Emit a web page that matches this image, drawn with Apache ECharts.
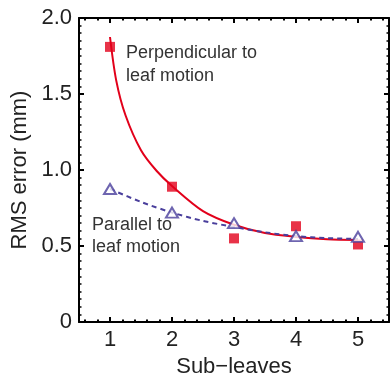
<!DOCTYPE html>
<html>
<head>
<meta charset="utf-8">
<title>RMS error vs sub-leaves</title>
<script src="https://cdn.jsdelivr.net/npm/echarts@6/dist/echarts.min.js"></script>
<style>
    html, body { margin: 0; padding: 0; background: #fff; }
    #chart { width: 391px; height: 375px; }
</style>
</head>
<body>
<div id="chart"></div>
<script>
// measured points
const subLeaves = [1, 2, 3, 4, 5];
const perpValues = [1.81, 0.89, 0.55, 0.63, 0.51];
const paraValues = [0.875, 0.72, 0.65, 0.565, 0.56];

// fitted curves
const perpFitX = [1, 1.1, 1.25, 1.5, 1.75, 2, 2.5, 3, 3.5, 4, 4.5, 5];
const perpFitY = [1.875, 1.59, 1.36, 1.13, 0.995, 0.895, 0.73, 0.64, 0.585, 0.56, 0.545, 0.54];
const paraFitX = [1, 1.5, 2, 2.5, 3, 3.5, 4, 4.5, 5];
const paraFitY = [0.875, 0.79, 0.72, 0.665, 0.625, 0.59, 0.565, 0.552, 0.546];

// ticks
const xMajorTicks = [1, 2, 3, 4, 5];
const xMinorTicks = [0.6, 0.8, 1.2, 1.4, 1.6, 1.8, 2.2, 2.4, 2.6, 2.8, 3.2, 3.4, 3.6, 3.8,
    4.2, 4.4, 4.6, 4.8, 5.2, 5.4];

const RED = '#e2001a';
const BLUE = '#4a3f9c';
const FONT = '"Liberation Sans", Arial, Helvetica, sans-serif';

const zip = (xs, ys) => xs.map((x, i) => [x, ys[i]]);

const axisLine = { show: true, lineStyle: { color: '#000', width: 2 } };

const xBase = (position, ticks, len, showLine) => ({
    type: 'value',
    position: position,
    min: 0.5,
    max: 5.5,
    axisLine: showLine ? axisLine : { show: false },
    axisTick: { show: true, inside: true, length: len, customValues: ticks, lineStyle: { color: '#000', width: 2 } },
    axisLabel: { show: false },
    splitLine: { show: false },
});

const yBase = position => ({
    type: 'value',
    position: position,
    min: 0,
    max: 2,
    interval: 0.5,
    axisLine: axisLine,
    axisTick: { show: true, inside: true, length: 5, lineStyle: { color: '#000', width: 2 } },
    minorTick: { show: true, splitNumber: 10, length: 2.5, lineStyle: { color: '#000', width: 1.5 } },
    axisLabel: { show: false },
    splitLine: { show: false },
});

const bottomMajor = xBase('bottom', xMajorTicks, 5, true);
bottomMajor.axisLabel = {
    show: true,
    customValues: xMajorTicks,
    margin: 7,
    color: '#222',
    fontSize: 22,
    fontFamily: FONT,
};
bottomMajor.name = 'Sub\u2212leaves';
bottomMajor.nameLocation = 'middle';
bottomMajor.nameGap = 30;
bottomMajor.nameTextStyle = { color: '#222', fontSize: 22, fontFamily: FONT };

const leftAxis = yBase('left');
leftAxis.axisLabel = {
    show: true,
    margin: 7,
    color: '#222',
    fontSize: 22,
    fontFamily: FONT,
    formatter: v => (v === 0 ? '0' : v.toFixed(1)),
};
leftAxis.name = 'RMS error (mm)';
leftAxis.nameLocation = 'middle';
leftAxis.nameGap = 46;
leftAxis.nameTextStyle = { color: '#222', fontSize: 22, fontFamily: FONT };

const option = {
    animation: false,
    backgroundColor: '#fff',
    grid: { left: 79, right: 2, top: 18, bottom: 53, containLabel: false, outerBoundsMode: 'none' },
    xAxis: [
        bottomMajor,
        xBase('bottom', xMinorTicks, 2.5, false),
        xBase('top', xMajorTicks, 5, true),
        xBase('top', xMinorTicks, 2.5, false),
    ],
    yAxis: [leftAxis, yBase('right')],
    graphic: [
        {
            type: 'text',
            left: 126,
            top: 42,
            style: {
                text: 'Perpendicular to\nleaf motion',
                font: '18px ' + FONT,
                lineHeight: 23,
                fill: '#333',
            },
        },
        {
            type: 'text',
            left: 92,
            top: 214,
            style: {
                text: 'Parallel to\nleaf motion',
                font: '18px ' + FONT,
                lineHeight: 22,
                fill: '#333',
            },
        },
    ],
    series: [
        {
            type: 'line',
            data: zip(perpFitX, perpFitY),
            smooth: 0.3,
            showSymbol: false,
            lineStyle: { color: RED, width: 2 },
            z: 2,
        },
        {
            type: 'line',
            data: zip(paraFitX, paraFitY),
            smooth: 0.3,
            showSymbol: false,
            lineStyle: { color: BLUE, width: 2, type: [5, 4] },
            z: 3,
        },
        {
            type: 'scatter',
            data: zip(subLeaves, perpValues),
            symbol: 'rect',
            symbolSize: 10,
            itemStyle: { color: RED },
            z: 4,
        },
        {
            type: 'scatter',
            data: zip(subLeaves, paraValues),
            symbol: 'emptyTriangle',
            symbolSize: [12, 10],
            itemStyle: { color: BLUE, borderColor: BLUE, borderWidth: 1.8 },
            z: 5,
        },
    ],
};

const myChart = echarts.init(document.getElementById('chart'));
myChart.setOption(option);
window.addEventListener('resize', () => myChart.resize());
</script>
</body>
</html>
